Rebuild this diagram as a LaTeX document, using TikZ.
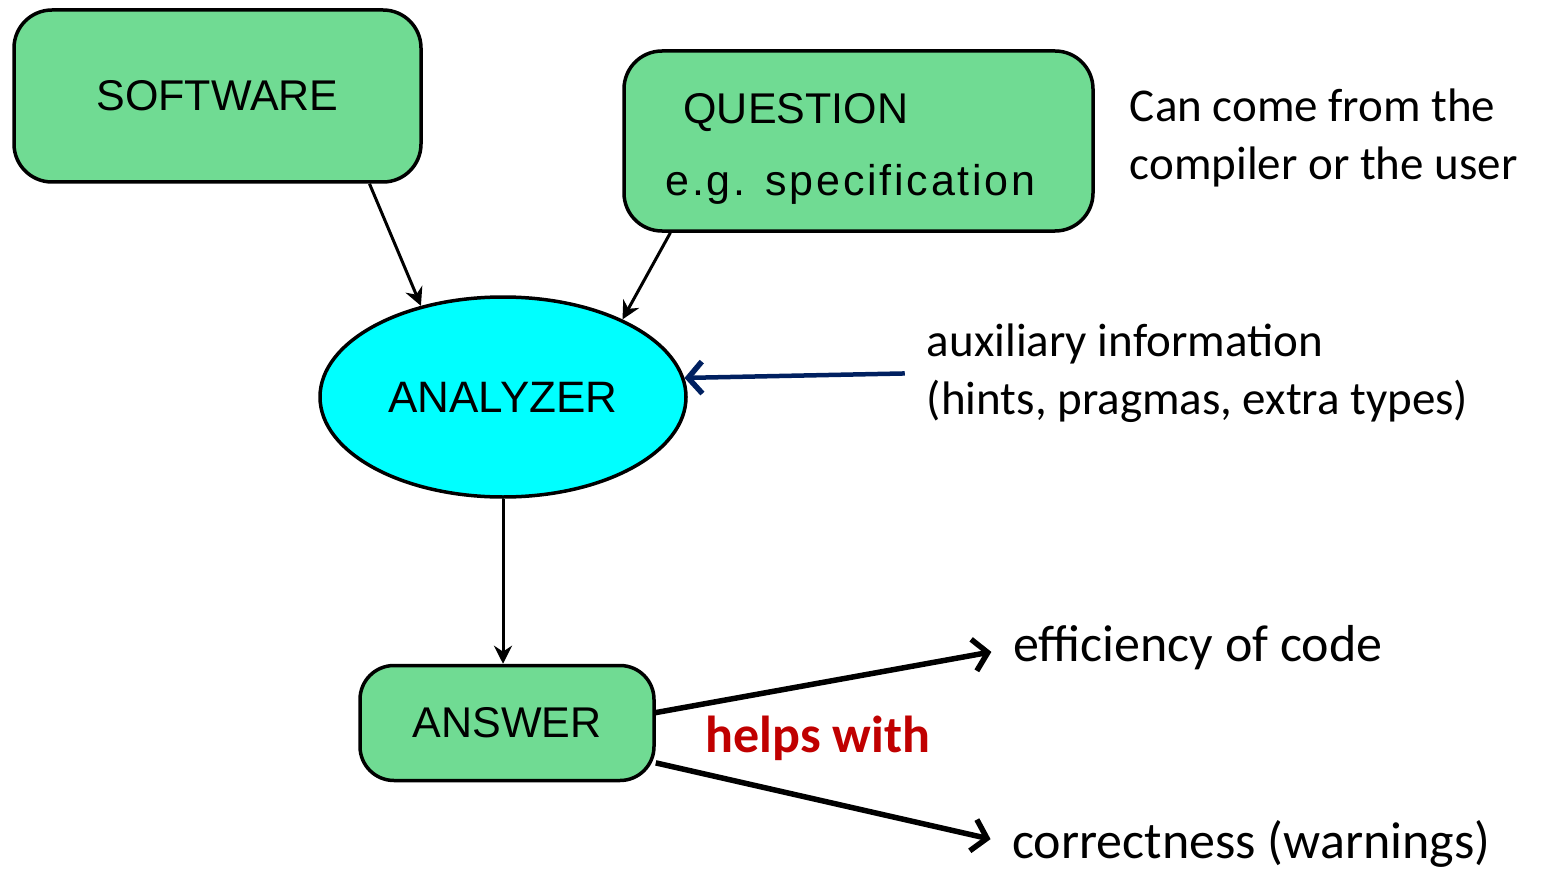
\documentclass[tikz,border=0pt]{standalone}
\usepackage{fontspec}
\setmainfont{Carlito}
\newfontfamily\boxfont{Liberation Sans}
\usepackage{tikz}
\usetikzlibrary{shapes.geometric, arrows.meta, positioning, calc}

\definecolor{boxgreen}{RGB}{112,219,147}
\definecolor{anacyan}{RGB}{0,255,255}
\definecolor{auxnavy}{RGB}{0,32,96}
\definecolor{helpred}{RGB}{192,0,0}

\begin{document}
\begin{tikzpicture}[
    x=1pt, y=-1pt,
    box/.style={rectangle, rounded corners=38pt, line width=3.5pt, draw=black, fill=boxgreen, inner sep=0pt, font=\boxfont\fontsize{43}{72}\selectfont},
    analyzer/.style={ellipse, line width=3.5pt, draw=black, fill=anacyan, inner sep=0pt, minimum width=366pt, minimum height=200pt, font=\boxfont\fontsize{44}{72}\selectfont},
    note/.style={inner sep=0pt, align=left, font=\fontsize{47}{57.5}\selectfont},
    result/.style={inner sep=0pt, anchor=west, font=\fontsize{52}{60}\selectfont},
    link/.style={line width=3pt, -{Stealth[length=18pt,width=18pt]}},
    helparrow/.style={line width=5.5pt, -{Straight Barb[length=14pt,width=32pt,line width=5.5pt]}}
]
\useasboundingbox (0,0) rectangle (1541,869);

\node (software) [box, minimum width=407pt, minimum height=172pt] at (217.5,96) {SOFTWARE};
\node (question) [box, minimum width=469pt, minimum height=180pt,
    label={[align=left, font=\boxfont\fontsize{43}{72}\selectfont, xshift=-8pt, yshift=-8pt]center:\hspace*{18pt}QUESTION\\{\addfontfeature{LetterSpace=6.5}e.g. specification}}] at (858.5,141) {};
\node (analyzer) [analyzer] at (503,397) {ANALYZER};
\node (answer) [box, rounded corners=34pt, minimum width=294pt, minimum height=115pt, below=165pt of analyzer, xshift=4pt] {ANSWER};

\node (origin) [note, right=35pt of question, yshift=3pt] {Can come from the\\compiler or the user};
\node (aux) [note, right=239pt of analyzer, yshift=24pt] {auxiliary information\\(hints, pragmas, extra types)};
\node (efficiency) [result] at (1013,648) {efficiency of code};
\node (correctness) [result] at (1012,844) {correctness (warnings)};
\node (helps) [text=helpred, font=\bfseries\fontsize{52}{60}\selectfont, inner sep=0pt] at (818,738) {helps with};

\draw [link] (software.-30) -- (analyzer.132.7);
\draw [link] (question.206) -- (analyzer.33.6);
\draw [link] (analyzer.south) -- (analyzer.south |- answer.north);
\draw [helparrow, draw=auxnavy, line width=4.5pt, shorten <=22pt] (aux.west) -- (analyzer.6);
\draw [helparrow, shorten >=22pt] (answer.4.9) -- (efficiency.west);
\draw [helparrow, shorten >=22pt] (answer.-15) -- (correctness.west);

\end{tikzpicture}
\end{document}
